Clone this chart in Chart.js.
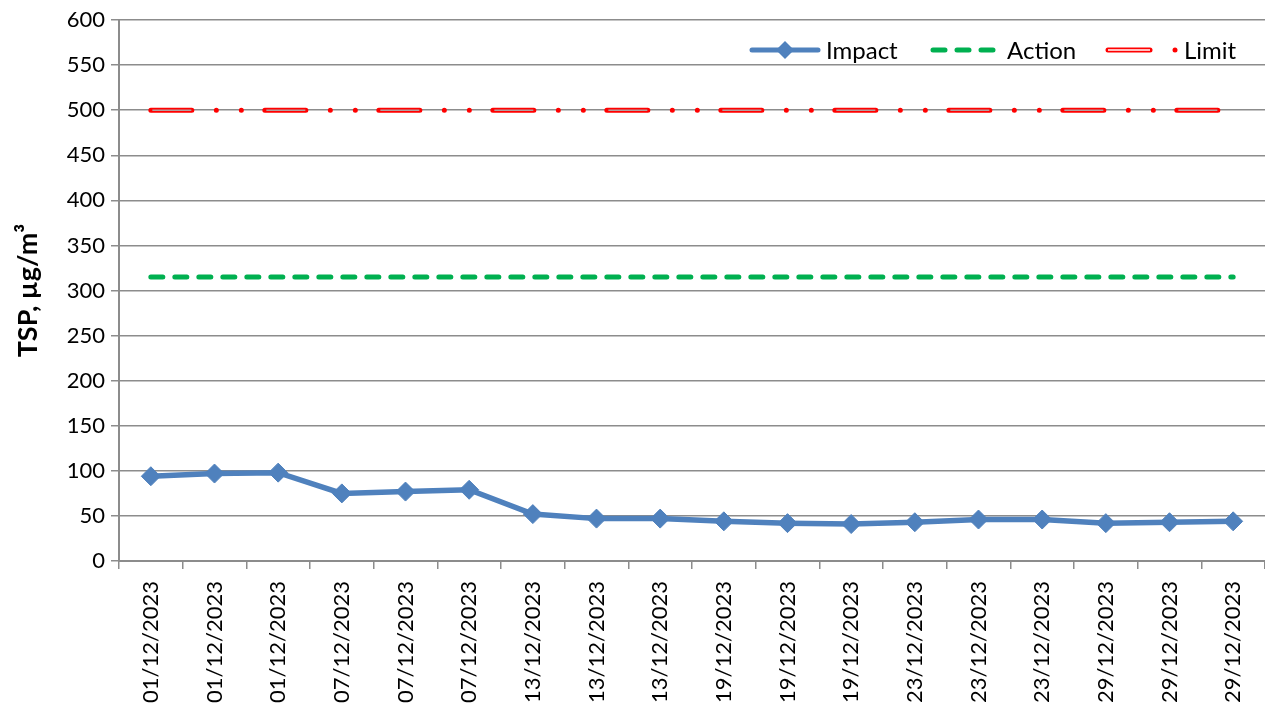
<!DOCTYPE html>
<html>
<head>
<meta charset="utf-8">
<script src="https://cdn.jsdelivr.net/npm/chart.js@4.4.0/dist/chart.umd.min.js"></script>
<style>
  html, body { margin: 0; padding: 0; background: #fff; }
  #wrap { width: 1265px; height: 713px; }
</style>
</head>
<body>
<div id="wrap"><canvas id="tsp-chart" width="1265" height="713"></canvas></div>
<script>
const dates = [
  '01/12/2023', '01/12/2023', '01/12/2023', '07/12/2023', '07/12/2023', '07/12/2023',
  '13/12/2023', '13/12/2023', '13/12/2023', '19/12/2023', '19/12/2023', '19/12/2023',
  '23/12/2023', '23/12/2023', '23/12/2023', '29/12/2023', '29/12/2023', '29/12/2023'
];
const impact = [94, 97, 98, 75, 77, 79, 52, 47, 47, 44, 42, 41, 43, 46, 46, 42, 43, 44];
const actionLevel = 315;
const limitLevel = 500;
const actionValues = dates.map(() => actionLevel);
const limitValues = dates.map(() => limitLevel);

const FONT = 'Lato, "Liberation Sans", sans-serif';
const BLUE = '#4F81BD';
const GREEN = '#00B050';
const RED = '#FF0000';
const GRID = '#8C8C8C';

// legend drawn inside the plot, like the Excel one
const legendPlugin = {
  id: 'excelLegend',
  afterDraw(chart) {
    const ctx = chart.ctx;
    const y = 50;
    ctx.save();
    ctx.lineCap = 'round';

    // Impact
    ctx.strokeStyle = BLUE;
    ctx.lineWidth = 5;
    ctx.beginPath();
    ctx.moveTo(752, y);
    ctx.lineTo(818, y);
    ctx.stroke();
    ctx.fillStyle = BLUE;
    ctx.beginPath();
    ctx.moveTo(785 - 9, y);
    ctx.lineTo(785, y - 9);
    ctx.lineTo(785 + 9, y);
    ctx.lineTo(785, y + 9);
    ctx.closePath();
    ctx.fill();

    // Action
    ctx.strokeStyle = GREEN;
    ctx.setLineDash([12, 12]);
    ctx.beginPath();
    ctx.moveTo(933, y);
    ctx.lineTo(999, y);
    ctx.stroke();
    ctx.setLineDash([]);

    // Limit
    ctx.strokeStyle = RED;
    ctx.lineWidth = 5;
    ctx.beginPath();
    ctx.moveTo(1108, y);
    ctx.lineTo(1150, y);
    ctx.stroke();
    ctx.strokeStyle = '#fff';
    ctx.lineWidth = 1.5;
    ctx.lineCap = 'butt';
    ctx.beginPath();
    ctx.moveTo(1108, y);
    ctx.lineTo(1150, y);
    ctx.stroke();
    ctx.fillStyle = RED;
    ctx.beginPath();
    ctx.arc(1175, y, 2.5, 0, Math.PI * 2);
    ctx.fill();

    ctx.fillStyle = '#000';
    ctx.font = '24px ' + FONT;
    ctx.textBaseline = 'middle';
    ctx.fillText('Impact', 826, y + 1);
    ctx.fillText('Action', 1007, y + 1);
    ctx.fillText('Limit', 1184, y + 1);
    ctx.restore();
  }
};

const ctx = document.getElementById('tsp-chart').getContext('2d');
new Chart(ctx, {
  type: 'line',
  data: {
    labels: dates,
    datasets: [
      {
        label: 'Limit',
        data: limitValues,
        borderColor: RED,
        borderWidth: 5,
        borderCapStyle: 'round',
        borderDash: [41, 24.5, 0, 25, 0, 23.5],
        pointRadius: 0,
        fill: false,
        order: 3
      },
      {
        label: 'Limit inner',
        data: limitValues,
        borderColor: '#B0A0A0',
        borderWidth: 1.5,
        borderCapStyle: 'butt',
        borderDash: [39, 75],
        borderDashOffset: -1.5,
        pointRadius: 0,
        fill: false,
        order: 2
      },
      {
        label: 'Action',
        data: actionValues,
        borderColor: GREEN,
        borderWidth: 5,
        borderCapStyle: 'round',
        borderDash: [12, 12],
        pointRadius: 0,
        fill: false,
        order: 1
      },
      {
        label: 'Impact',
        data: impact,
        borderColor: BLUE,
        backgroundColor: BLUE,
        borderWidth: 5.5,
        pointStyle: 'rectRot',
        pointRadius: 9.5,
        pointBorderWidth: 1,
        pointBorderColor: BLUE,
        pointBackgroundColor: BLUE,
        tension: 0,
        fill: false,
        order: 0
      }
    ]
  },
  options: {
    responsive: false,
    animation: false,
    layout: { autoPadding: false, padding: { top: 20, right: 0, left: 0, bottom: 0 } },
    plugins: {
      legend: { display: false },
      tooltip: { enabled: false }
    },
    scales: {
      x: {
        offset: true,
        grid: {
          offset: true,
          drawOnChartArea: false,
          color: GRID,
          tickLength: 8,
          lineWidth: 1.5
        },
        border: { color: GRID, width: 2 },
        ticks: {
          autoSkip: false,
          minRotation: 90,
          maxRotation: 90,
          padding: 12,
          color: '#000',
          font: { family: FONT, size: 22 }
        },
        afterFit: s => {
          s.height = 152;
          s.paddingLeft = 0;
          s.paddingRight = 0;
        }
      },
      y: {
        min: 0,
        max: 600,
        ticks: {
          stepSize: 50,
          padding: 6,
          color: '#000',
          font: { family: FONT, size: 22 }
        },
        grid: { color: GRID, tickLength: 8, lineWidth: 1.5 },
        border: { color: GRID, width: 2 },
        title: {
          display: true,
          text: 'TSP, µg/m³',
          color: '#000',
          padding: { top: 12, bottom: 0 },
          font: { family: FONT, size: 27, weight: 'bold' }
        },
        afterFit: s => { s.width = 119; }
      }
    }
  },
  plugins: [legendPlugin]
});
</script>
</body>
</html>
